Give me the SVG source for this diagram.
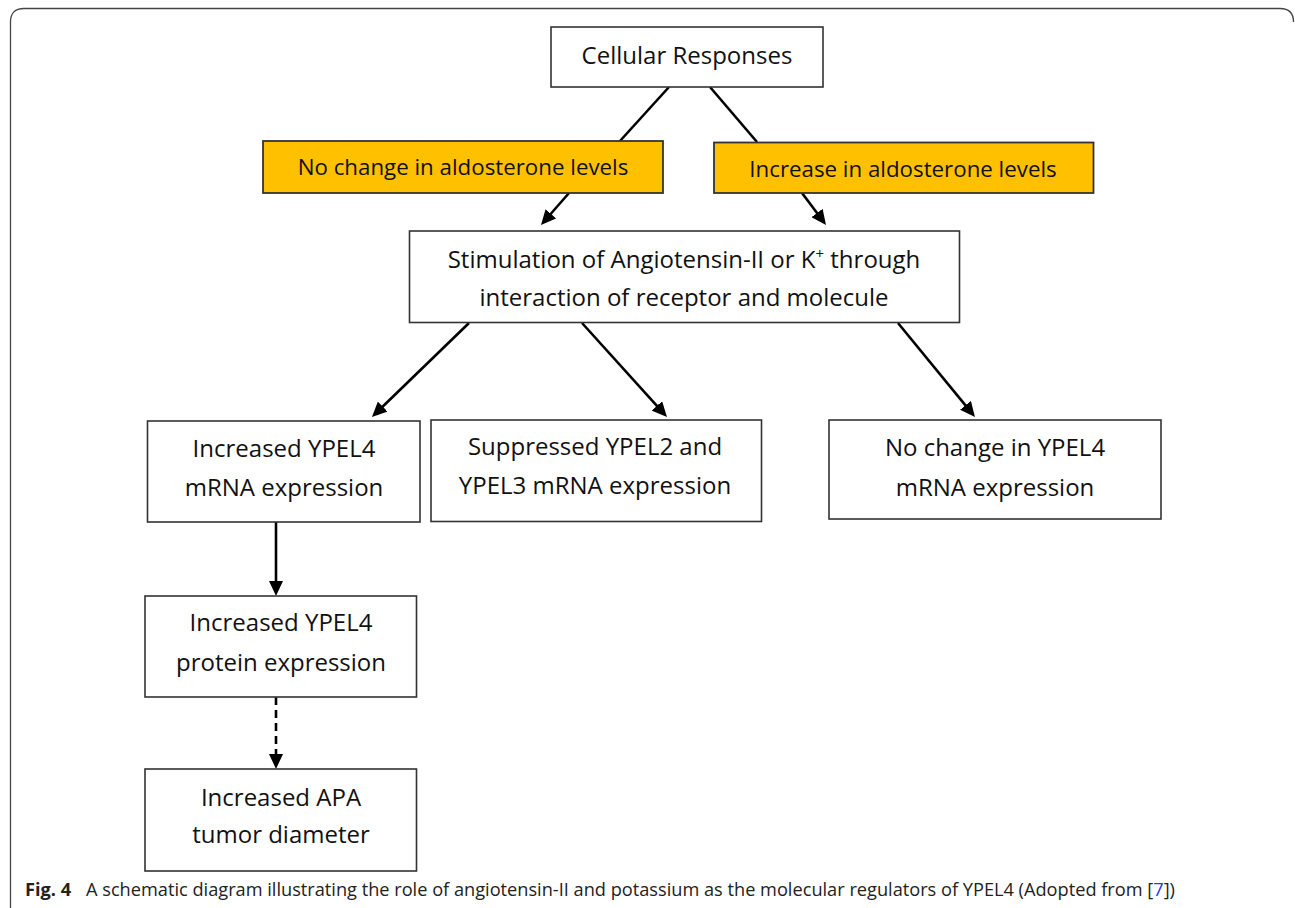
<svg xmlns="http://www.w3.org/2000/svg" width="1295" height="908" viewBox="0 0 1295 908">
<style>
.box{fill:#ffffff;stroke:#333333;stroke-width:1.6}
.ybox{fill:#FFC000;stroke:#333333;stroke-width:1.8}
.t{font-family:"Open Sans","Noto Sans","Liberation Sans",sans-serif;font-size:24px;fill:#111111;text-anchor:middle}
.ty{font-size:22.3px}
.ln{stroke:#000000;stroke-width:2.6;fill:none}
.cap{font-family:"Open Sans","Noto Sans","Liberation Sans",sans-serif;font-size:18.2px;fill:#222222}
</style>
<defs>
<marker id="ah" viewBox="0 0 15 14" refX="1" refY="7" markerWidth="15" markerHeight="14" markerUnits="userSpaceOnUse" orient="auto">
<path d="M0,0 L15,7 L0,14 z" fill="#000000"/>
</marker>
</defs>
<rect width="1295" height="908" fill="#ffffff"/>
<path d="M10.5,908 L10.5,22 Q10.5,8.5 24,8.5 L1280,8.5 Q1293.5,8.5 1293.5,22" fill="none" stroke="#444444" stroke-width="1.3"/>

<g id="connectors">
<line class="ln" x1="669" y1="87" x2="620" y2="141"/>
<line class="ln" x1="710" y1="87" x2="757" y2="142"/>
<line class="ln" x1="569" y1="193" x2="550.2" y2="214.5" marker-end="url(#ah)"/>
<line class="ln" x1="802" y1="193" x2="817.6" y2="213.8" marker-end="url(#ah)"/>
<line class="ln" x1="469" y1="323" x2="382" y2="407.3" marker-end="url(#ah)"/>
<line class="ln" x1="582" y1="323" x2="657.6" y2="406.6" marker-end="url(#ah)"/>
<line class="ln" x1="898" y1="323" x2="966.1" y2="406.1" marker-end="url(#ah)"/>
<line class="ln" x1="276" y1="522" x2="276" y2="582" marker-end="url(#ah)"/>
<line class="ln" x1="276" y1="697" x2="276" y2="755" stroke-dasharray="8,5" marker-end="url(#ah)"/>
</g>

<g id="cellular">
<rect class="box" x="551" y="27" width="272" height="60"/>
<text class="t" x="687" y="64">Cellular Responses</text>
</g>
<g id="no-change-aldo">
<rect class="ybox" x="263" y="141" width="400" height="52"/>
<text class="t ty" x="463" y="174.5">No change in aldosterone levels</text>
</g>
<g id="increase-aldo">
<rect class="ybox" x="714" y="142.5" width="379.5" height="50.5"/>
<text class="t ty" x="903" y="176.5">Increase in aldosterone levels</text>
</g>
<g id="stimulation">
<rect class="box" x="409.5" y="231" width="550" height="91.5"/>
<text class="t" x="684" y="268">Stimulation of Angiotensin-II or K<tspan font-size="15" dy="-9">+</tspan><tspan dy="9"> through</tspan></text>
<text class="t" x="684" y="306">interaction of receptor and molecule</text>
</g>
<g id="inc-mrna">
<rect class="box" x="147.5" y="421" width="272.5" height="101"/>
<text class="t" x="284" y="457">Increased YPEL4</text>
<text class="t" x="284" y="496">mRNA expression</text>
</g>
<g id="suppressed">
<rect class="box" x="431" y="420" width="330.5" height="101.5"/>
<text class="t" x="595" y="455">Suppressed YPEL2 and</text>
<text class="t" x="595" y="494">YPEL3 mRNA expression</text>
</g>
<g id="no-change-mrna">
<rect class="box" x="829" y="420" width="332" height="99"/>
<text class="t" x="995" y="456">No change in YPEL4</text>
<text class="t" x="995" y="496">mRNA expression</text>
</g>
<g id="inc-protein">
<rect class="box" x="145" y="596" width="271.5" height="101"/>
<text class="t" x="281" y="631">Increased YPEL4</text>
<text class="t" x="281" y="671">protein expression</text>
</g>
<g id="inc-apa">
<rect class="box" x="145" y="769" width="271.5" height="102"/>
<text class="t" x="281" y="806">Increased APA</text>
<text class="t" x="281" y="843">tumor diameter</text>
</g>
<text class="cap" x="25" y="896"><tspan font-weight="bold">Fig. 4</tspan><tspan x="86">A schematic diagram illustrating the role of angiotensin-II and potassium as the molecular regulators of YPEL4 (Adopted from [</tspan><tspan fill="#3333ee">7</tspan><tspan>])</tspan></text>
</svg>
